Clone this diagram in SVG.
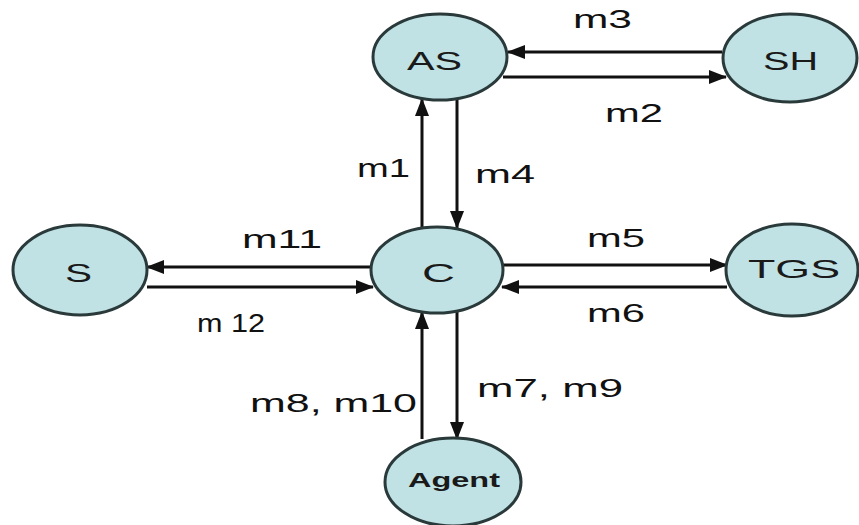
<svg xmlns="http://www.w3.org/2000/svg" width="859" height="525" viewBox="0 0 859 525">
  <style>
    .node ellipse { fill: #c0e2e5; stroke: #2a3a3a; stroke-width: 3; }
    .node text { font-family: "Liberation Sans", Arial, sans-serif; font-size: 26px; fill: #1a1a1a; text-anchor: start; }
    .edge { stroke: #111; stroke-width: 3; fill: none; marker-end: url(#arrow); }
    .lbl { font-family: "Liberation Sans", Arial, sans-serif; font-size: 25px; fill: #111; }
  </style>
  <defs>
    <marker id="arrow" viewBox="0 0 18 14" refX="17" refY="7" markerWidth="18" markerHeight="14" markerUnits="userSpaceOnUse" orient="auto">
      <path d="M0,0 L18,7 L0,14 Z" fill="#111"/>
    </marker>
  </defs>
  <rect width="859" height="525" fill="#ffffff"/>

  <g id="connectors">
    <!-- AS <-> SH -->
    <line class="edge" x1="722" y1="52" x2="508" y2="52"/>
    <line class="edge" x1="503" y1="77" x2="726" y2="77"/>
    <!-- C <-> AS -->
    <line class="edge" x1="422" y1="228" x2="422" y2="99"/>
    <line class="edge" x1="457" y1="100" x2="457" y2="228"/>
    <!-- C <-> S -->
    <line class="edge" x1="372" y1="267" x2="147" y2="267"/>
    <line class="edge" x1="147" y1="287" x2="373" y2="287"/>
    <!-- C <-> TGS -->
    <line class="edge" x1="503" y1="265" x2="727" y2="265"/>
    <line class="edge" x1="727" y1="287" x2="502" y2="287"/>
    <!-- C <-> Agent -->
    <line class="edge" x1="422" y1="439" x2="422" y2="312"/>
    <line class="edge" x1="457" y1="312" x2="457" y2="439"/>

    <text class="lbl" x="573" y="28" textLength="59" lengthAdjust="spacingAndGlyphs">m3</text>
    <text class="lbl" x="605" y="122" textLength="58" lengthAdjust="spacingAndGlyphs">m2</text>
    <text class="lbl" x="357" y="177" textLength="53" lengthAdjust="spacingAndGlyphs">m1</text>
    <text class="lbl" x="475" y="183" textLength="60" lengthAdjust="spacingAndGlyphs">m4</text>
    <text class="lbl" x="242" y="248" textLength="80" lengthAdjust="spacingAndGlyphs">m11</text>
    <text class="lbl" x="197" y="332" textLength="68" lengthAdjust="spacingAndGlyphs">m 12</text>
    <text class="lbl" x="587" y="247" textLength="58" lengthAdjust="spacingAndGlyphs">m5</text>
    <text class="lbl" x="587" y="322" textLength="58" lengthAdjust="spacingAndGlyphs">m6</text>
    <text class="lbl" x="477" y="397" textLength="146" lengthAdjust="spacingAndGlyphs">m7, m9</text>
    <text class="lbl" x="250" y="412" textLength="167" lengthAdjust="spacingAndGlyphs">m8, m10</text>
  </g>

  <g id="node-AS" class="node">
    <ellipse cx="440" cy="57" rx="67" ry="43"/>
    <text x="407" y="70" textLength="55" lengthAdjust="spacingAndGlyphs">AS</text>
  </g>
  <g id="node-SH" class="node">
    <ellipse cx="790" cy="58" rx="67" ry="44"/>
    <text x="763" y="70" textLength="55" lengthAdjust="spacingAndGlyphs">SH</text>
  </g>
  <g id="node-S" class="node">
    <ellipse cx="80" cy="270" rx="67" ry="45"/>
    <text x="65" y="282" textLength="27" lengthAdjust="spacingAndGlyphs">S</text>
  </g>
  <g id="node-C" class="node">
    <ellipse cx="437" cy="270" rx="66" ry="43"/>
    <text x="422" y="282" textLength="33" lengthAdjust="spacingAndGlyphs">C</text>
  </g>
  <g id="node-TGS" class="node">
    <ellipse cx="792" cy="270" rx="66" ry="46"/>
    <text x="748" y="278" textLength="92" lengthAdjust="spacingAndGlyphs">TGS</text>
  </g>
  <g id="node-Agent" class="node">
    <ellipse cx="453" cy="482" rx="68" ry="44"/>
    <text x="408" y="487" textLength="92" lengthAdjust="spacingAndGlyphs" style="font-size:21px;font-weight:bold">Agent</text>
  </g>
</svg>
